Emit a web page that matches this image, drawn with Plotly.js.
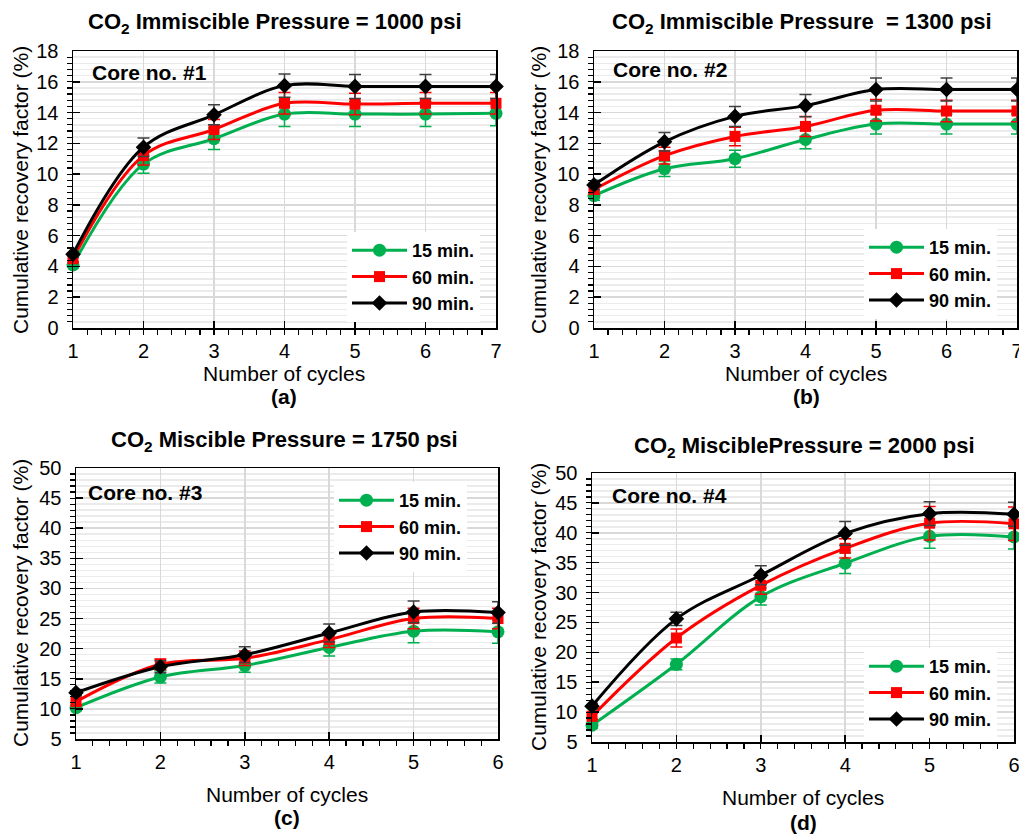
<!DOCTYPE html>
<html>
<head>
<meta charset="utf-8">
<script src="https://cdn.plot.ly/plotly-3.0.1.min.js"></script>
<style>
  html, body { margin: 0; padding: 0; background: #ffffff; }
  #chart { width: 1019px; height: 834px; }
</style>
</head>
<body>
<div id="chart"></div>
<script>
// ---------- data ----------
const seriesNames = ["15 min.", "60 min.", "90 min."];

const cyclesAB = [1, 2, 3, 4, 5, 6, 7];
const cyclesCD = [1, 2, 3, 4, 5, 6];

// (a) Core no. #1 – CO2 immiscible 1000 psi
const a15 = [4.1, 10.65, 12.3, 13.9, 13.9, 13.9, 13.95];
const a60 = [4.5, 11.2, 12.9, 14.6, 14.55, 14.6, 14.6];
const a90 = [4.8, 11.75, 13.85, 15.75, 15.7, 15.7, 15.7];
const a15err = [0.2, 0.6, 0.7, 0.8, 0.8, 0.8, 0.8];
const a60err = [0.2, 0.6, 0.65, 0.7, 0.7, 0.7, 0.7];
const a90err = [0.2, 0.6, 0.65, 0.75, 0.78, 0.78, 0.78];

// (b) Core no. #2 – CO2 immiscible 1300 psi
const b15 = [8.6, 10.35, 11.0, 12.25, 13.25, 13.25, 13.25];
const b60 = [9.0, 11.2, 12.45, 13.1, 14.15, 14.1, 14.1];
const b90 = [9.3, 12.1, 13.75, 14.45, 15.5, 15.5, 15.5];
const b15err = [0.3, 0.5, 0.55, 0.6, 0.65, 0.65, 0.65];
const b60err = [0.3, 0.55, 0.6, 0.65, 0.7, 0.7, 0.7];
const b90err = [0.3, 0.6, 0.65, 0.73, 0.75, 0.75, 0.75];

// (c) Core no. #3 – CO2 miscible 1750 psi
const c15 = [10.2, 15.3, 17.2, 20.2, 22.9, 22.8];
const c60 = [11.2, 17.4, 18.4, 21.5, 25.0, 25.0];
const c90 = [12.7, 17.0, 19.0, 22.6, 26.1, 26.0];
const c15err = [0.5, 1.0, 1.1, 1.4, 1.9, 1.9];
const c60err = [0.5, 0.9, 1.2, 1.3, 1.7, 1.7];
const c90err = [0.5, 1.0, 1.3, 1.5, 1.8, 1.8];

// (d) Core no. #4 – CO2 miscible 2000 psi
const d15 = [7.8, 18.0, 29.3, 34.9, 39.4, 39.3];
const d60 = [9.3, 22.4, 31.2, 37.4, 41.6, 41.5];
const d90 = [11.0, 25.6, 32.9, 39.9, 43.2, 43.1];
const d15err = [0.5, 0.9, 1.4, 1.7, 2.0, 2.0];
const d60err = [0.5, 1.5, 1.5, 1.6, 2.8, 2.8];
const d90err = [0.5, 1.1, 1.6, 2.0, 2.0, 2.0];

const panelTitles = [
  "CO<sub>2</sub> Immiscible Pressure = 1000 psi",
  "CO<sub>2</sub> Immiscible Pressure&nbsp; = 1300 psi",
  "CO<sub>2</sub> Miscible Pressure = 1750 psi",
  "CO<sub>2</sub> MisciblePressure = 2000 psi"
];
const coreLabels = ["Core no. #1", "Core no. #2", "Core no. #3", "Core no. #4"];
const panelLetters = ["(a)", "(b)", "(c)", "(d)"];
const xTitle = "Number of cycles";
const yTitle = "Cumulative recovery factor (%)";

// ---------- styling ----------
const W = 1019, H = 834;
const FONT = "Liberation Sans, Arial, Helvetica, sans-serif";
const colors = ["#00B050", "#FF0000", "#000000"];
const errColors = ["#00B050", "#FF0000", "#404040"];
const symbols = ["circle", "square", "diamond"];
const msizes = [13, 11, 12];

const px = v => v / W;
const py = v => 1 - v / H;

// panel pixel boxes [left, right, top, bottom]
const boxes = [
  [73, 496, 51, 328],
  [594, 1017, 51, 328],
  [76, 498, 468, 739],
  [592, 1014, 473, 742]
];

const panels = [
  {x: cyclesAB, ys: [a15, a60, a90], es: [a15err, a60err, a90err], yr: [0, 18], dt: 2, mdt: 0.4, xr: [1, 7]},
  {x: cyclesAB, ys: [b15, b60, b90], es: [b15err, b60err, b90err], yr: [0, 18], dt: 2, mdt: 0.4, xr: [1, 7]},
  {x: cyclesCD, ys: [c15, c60, c90], es: [c15err, c60err, c90err], yr: [5, 50], dt: 5, mdt: 1, xr: [1, 6]},
  {x: cyclesCD, ys: [d15, d60, d90], es: [d15err, d60err, d90err], yr: [5, 50], dt: 5, mdt: 1, xr: [1, 6]}
];

const legendBoxes = [
  [347, 232], [864, 229], [334, 482], [864, 648]
];

const traces = [];
const layout = {
  width: W, height: H,
  margin: {l: 0, r: 0, t: 0, b: 0},
  paper_bgcolor: "#ffffff",
  plot_bgcolor: "#ffffff",
  font: {family: FONT, color: "#000"},
  annotations: [],
  showlegend: true
};

panels.forEach((p, i) => {
  const n = i === 0 ? "" : String(i + 1);
  const xa = "x" + n, ya = "y" + n;
  const legName = i === 0 ? "legend" : "legend" + (i + 1);
  const b = boxes[i];

  layout["xaxis" + n] = {
    domain: [px(b[0]), px(b[1])],
    anchor: ya,
    range: p.xr,
    tickmode: "linear", tick0: 1, dtick: 1,
    ticks: "inside", ticklen: 7, tickwidth: 1.5, tickcolor: "#000",
    showline: true, linecolor: "#000", linewidth: 1.5, mirror: true,
    showgrid: true, gridcolor: "#d9d9d9", gridwidth: 1.5,
    zeroline: false,
    tickfont: {family: FONT, size: 20, color: "#000"},
    ticklabelstandoff: 4,
    ticklabeloverflow: "allow",
    minor: {dtick: 0.2, ticks: "outside", ticklen: 5, tickwidth: 1.2, tickcolor: "#000", showgrid: false},
    fixedrange: true
  };
  layout["yaxis" + n] = {
    domain: [py(b[3]), py(b[2])],
    anchor: xa,
    range: p.yr,
    tickmode: "linear", tick0: 0, dtick: p.dt,
    ticks: "inside", ticklen: 7, tickwidth: 1.5, tickcolor: "#000",
    showline: true, linecolor: "#000", linewidth: 1.5, mirror: true,
    showgrid: true, gridcolor: "#d9d9d9", gridwidth: 1.5,
    zeroline: false,
    tickfont: {family: FONT, size: 20, color: "#000"},
    ticklabelstandoff: 9,
    ticklabeloverflow: "allow",
    minor: {dtick: p.mdt, ticks: "outside", ticklen: 5, tickwidth: 1.2, tickcolor: "#000",
            showgrid: true, gridcolor: "#ebebeb", gridwidth: 1.5},
    fixedrange: true
  };

  p.ys.forEach((ys, k) => {
    traces.push({
      type: "scatter", mode: "lines+markers",
      x: p.x, y: ys,
      xaxis: xa, yaxis: ya,
      name: seriesNames[k],
      legend: legName,
      cliponaxis: false,
      line: {color: colors[k], width: 3, shape: "spline", smoothing: 1},
      marker: {symbol: symbols[k], size: msizes[k], color: colors[k]},
      error_y: {type: "data", array: p.es[k], visible: true, color: errColors[k], thickness: 1.5, width: 6}
    });
  });

  layout[legName] = {
    x: px(legendBoxes[i][0]), y: py(legendBoxes[i][1]),
    xref: "paper", yref: "paper",
    xanchor: "left", yanchor: "top",
    bgcolor: "#ffffff", borderwidth: 0,
    font: {family: FONT, size: 18, color: "#000", weight: "bold"},
    itemwidth: 55,
    traceorder: "normal",
    tracegroupgap: 0
  };
});

// text annotations
const titlePos = [[275, 23], [802, 23], [284, 441], [804, 447]];
const corePos = [[90, 72], [611, 69], [86, 492], [610, 495]];
const xTitlePos = [[284, 373], [806, 373], [287, 794], [803, 797]];
const letterPos = [[284, 397], [806, 397], [287, 817], [803, 822]];
const yTitlePos = [[20, 190], [538, 190], [20, 603], [538, 607]];

for (let i = 0; i < 4; i++) {
  layout.annotations.push({
    xref: "paper", yref: "paper", x: px(titlePos[i][0]), y: py(titlePos[i][1]),
    xanchor: "center", yanchor: "middle", showarrow: false,
    text: panelTitles[i], font: {family: FONT, size: 22, color: "#000", weight: "bold"}
  });
  layout.annotations.push({
    xref: "paper", yref: "paper", x: px(corePos[i][0]), y: py(corePos[i][1]),
    xanchor: "left", yanchor: "middle", showarrow: false,
    text: coreLabels[i], font: {family: FONT, size: 21, color: "#000", weight: "bold"}
  });
  layout.annotations.push({
    xref: "paper", yref: "paper", x: px(xTitlePos[i][0]), y: py(xTitlePos[i][1]),
    xanchor: "center", yanchor: "middle", showarrow: false,
    text: xTitle, font: {family: FONT, size: 21, color: "#000"}
  });
  layout.annotations.push({
    xref: "paper", yref: "paper", x: px(letterPos[i][0]), y: py(letterPos[i][1]),
    xanchor: "center", yanchor: "middle", showarrow: false,
    text: panelLetters[i], font: {family: FONT, size: 21, color: "#000", weight: "bold"}
  });
  layout.annotations.push({
    xref: "paper", yref: "paper", x: px(yTitlePos[i][0]), y: py(yTitlePos[i][1]),
    xanchor: "center", yanchor: "middle", showarrow: false, textangle: -90,
    text: yTitle, font: {family: FONT, size: 21, color: "#000"}
  });
}

Plotly.newPlot("chart", traces, layout, {staticPlot: true, displayModeBar: false});
</script>
</body>
</html>
